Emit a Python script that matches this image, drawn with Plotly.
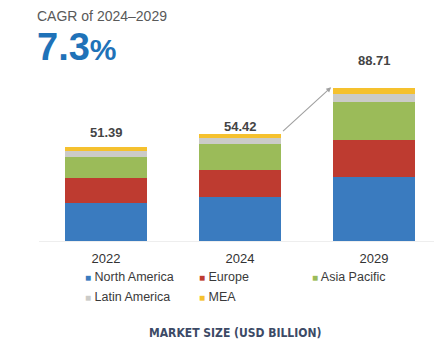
import plotly.graph_objects as go

years = ["2022", "2024", "2029"]
regions = ["North America", "Europe", "Asia Pacific", "Latin America", "MEA"]
north_america = [20.8, 24.1, 35.0]
europe = [13.7, 14.9, 20.4]
asia_pacific = [11.5, 13.8, 20.6]
latin_america = [3.3, 3.4, 4.5]
mea = [2.2, 2.4, 3.3]
total_labels = ["51.39", "54.42", "88.71"]
cagr_title = "CAGR of 2024–2029"
cagr_value = "7.3"
axis_caption = "MARKET SIZE (USD BILLION)"

series = [north_america, europe, asia_pacific, latin_america, mea]
colors = ["#3a7bbf", "#be3b30", "#9bbb59", "#cbcbc8", "#f5c12e"]

fig = go.Figure()
for name, vals, col in zip(regions, series, colors):
    fig.add_trace(go.Bar(x=years, y=vals, name=name, marker=dict(color=col, line=dict(width=0)),
                         showlegend=False, hoverinfo="skip"))

totals = [sum(v) for v in zip(*series)]
label_shift = [14, 7, 27]
for idx, (tot, lab, ys) in enumerate(zip(totals, total_labels, label_shift)):
    fig.add_annotation(x=idx, y=tot, text=f"<b>{lab}</b>", showarrow=False, yshift=ys,
                       yanchor="middle", font=dict(family="Liberation Sans, Arial", size=13, color="#444444"))

# growth arrow from 2024 bar top to 2029 bar top
fig.add_annotation(ax=1.31, ay=totals[1] + 0.8, axref="x", ayref="y",
                   x=1.68, y=totals[2] + 0.3, xref="x", yref="y",
                   showarrow=True, arrowhead=2, arrowsize=0.9, arrowwidth=1.1,
                   arrowcolor="#a0a0a0", text="")

# legend built from series names and colours
leg_x = [83, 197, 310]
leg_y = [277, 297]
for i, (name, col) in enumerate(zip(regions, colors)):
    r, c = divmod(i, 3)
    fig.add_annotation(xref="paper", yref="paper", x=(leg_x[c] - 38.5) / 402.5,
                       y=(241 - leg_y[r]) / 181, xanchor="left", yanchor="middle", showarrow=False,
                       text=f"<span style='color:{col};font-size:10px'>■</span> {name}",
                       font=dict(family="Liberation Sans, Arial", size=12.5, color="#3a3a3a"))

fig.add_annotation(xref="paper", yref="paper", x=(235 - 38.5) / 402.5, y=(241 - 333) / 181,
                   xanchor="center", yanchor="middle", showarrow=False, text=f"<b>{axis_caption}</b>",
                   font=dict(family="DejaVu Sans Condensed, Liberation Sans Narrow, Liberation Sans",
                             size=12, color="#3c4a66"))

fig.add_annotation(xref="paper", yref="paper", x=(35 - 38.5) / 402.5, y=(241 - 16) / 181,
                   xanchor="left", yanchor="middle", showarrow=False, text=cagr_title, borderpad=0,
                   font=dict(family="Liberation Sans, Arial", size=14, color="#595959"))
fig.add_annotation(xref="paper", yref="paper", x=(34 - 38.5) / 402.5, y=(241 - 47) / 181,
                   xanchor="left", yanchor="middle", showarrow=False,
                   text=f"<b>{cagr_value}<span style='font-size:30px'>%</span></b>",
                   font=dict(family="Liberation Sans, Arial", size=38, color="#1f72b8"))

fig.update_layout(
    width=434, height=356,
    margin=dict(l=30.5, r=1, t=52, b=123),
    barmode="stack", bargap=0.39,
    paper_bgcolor="white", plot_bgcolor="white",
    xaxis=dict(type="category", range=[-0.5, 2.5], showgrid=False, showline=True,
               linecolor="#eeeeee", linewidth=1, ticks="", automargin=False, ticklabelstandoff=5,
               tickfont=dict(family="Liberation Sans, Arial", size=13, color="#333333")),
    yaxis=dict(range=[0, 99], visible=False, showgrid=False, automargin=False),
)

fig.write_html("out.html")
